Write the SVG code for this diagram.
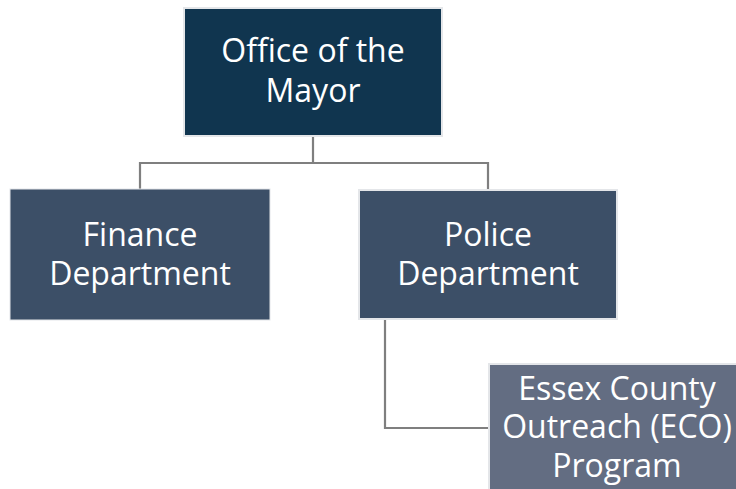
<svg xmlns="http://www.w3.org/2000/svg" width="736" height="489" viewBox="0 0 736 489">
  <style>
    .box { stroke: #e4e6e9; stroke-width: 2; }
    .lvl0 { fill: #10354f; }
    .lvl1 { fill: #3c4f67; }
    .lvl2 { fill: #636d82; }
    .label { font-family: "Open Sans", "Noto Sans", sans-serif; font-size: 32px; fill: #ffffff; text-anchor: middle; }
    .link { fill: none; stroke: #7f7f7f; stroke-width: 2.2; }
  </style>
  <rect width="736" height="489" fill="#ffffff"/>

  <g id="connectors">
    <path class="link" d="M313 136 V163 M140 163 H488 M140 162 V190 M488 162 V190"/>
    <path class="link" d="M385 320 V428 H489"/>
  </g>

  <g id="office-of-the-mayor">
    <rect class="box lvl0" x="184" y="8" width="258" height="128"/>
    <text class="label" x="313" y="62">Office of the</text>
    <text class="label" x="313" y="102">Mayor</text>
  </g>

  <g id="finance-department">
    <rect class="box lvl1" x="10" y="189" width="260" height="131" style="stroke-width:1"/>
    <text class="label" x="140" y="246">Finance</text>
    <text class="label" x="140" y="285">Department</text>
  </g>

  <g id="police-department">
    <rect class="box lvl1" x="359" y="190" width="258" height="129"/>
    <text class="label" x="488" y="246">Police</text>
    <text class="label" x="488" y="285">Department</text>
  </g>

  <g id="eco-program">
    <rect class="box lvl2" x="489" y="364" width="258" height="140"/>
    <text class="label" x="617" y="400">Essex County</text>
    <text class="label" x="617" y="438">Outreach (ECO)</text>
    <text class="label" x="617" y="477">Program</text>
  </g>
</svg>
